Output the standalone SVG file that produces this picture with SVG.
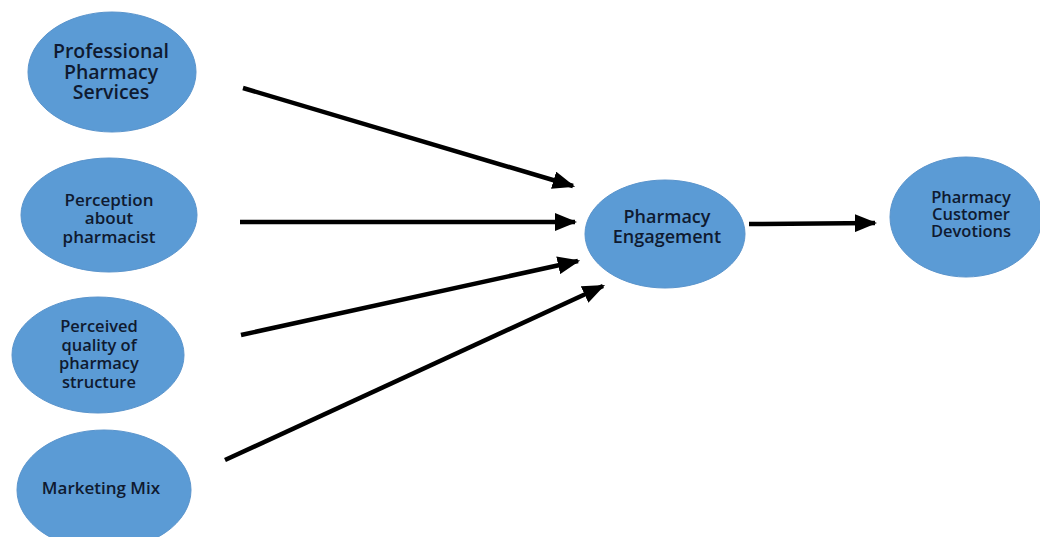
<svg xmlns="http://www.w3.org/2000/svg" width="1040" height="537" viewBox="0 0 1040 537">
  <style>
    .node ellipse { fill: #5b9bd5; stroke: #5a94cc; stroke-width: 1; }
    .node text { font-family: "Open Sans", Lato, "Liberation Sans", sans-serif; font-weight: 600; fill: #0f1a30; text-anchor: middle; dominant-baseline: central; }
    .edges line { stroke: #000; stroke-width: 4.5; marker-end: url(#arrow); }
  </style>
  <defs>
    <marker id="arrow" viewBox="0 0 10 10" refX="9" refY="5" markerWidth="5" markerHeight="4" markerUnits="strokeWidth" orient="auto" preserveAspectRatio="none">
      <path d="M0,0 L10,5 L0,10 Z" fill="#000"/>
    </marker>
  </defs>
  <rect width="1040" height="537" fill="#fff"/>

  <g class="edges">
    <line x1="243" y1="88" x2="573" y2="186"/>
    <line x1="240" y1="222" x2="575" y2="222"/>
    <line x1="241" y1="335" x2="578" y2="261"/>
    <line x1="225" y1="460" x2="603" y2="286"/>
    <line x1="749" y1="224" x2="875" y2="223"/>
  </g>

  <g id="professional-services" class="node">
    <ellipse cx="112" cy="72" rx="84" ry="60"/>
    <text font-size="19.5"><tspan x="111" y="50">Professional</tspan><tspan x="111" y="70.5">Pharmacy</tspan><tspan x="111" y="91">Services</tspan></text>
  </g>

  <g id="perception-pharmacist" class="node">
    <ellipse cx="109" cy="215" rx="88" ry="57"/>
    <text font-size="17"><tspan x="109" y="198.5">Perception</tspan><tspan x="109" y="217">about</tspan><tspan x="109" y="235.5">pharmacist</tspan></text>
  </g>

  <g id="perceived-quality" class="node">
    <ellipse cx="98" cy="355" rx="86" ry="58"/>
    <text font-size="16.5"><tspan x="99" y="325">Perceived</tspan><tspan x="99" y="343.5">quality of</tspan><tspan x="99" y="362">pharmacy</tspan><tspan x="99" y="380.5">structure</tspan></text>
  </g>

  <g id="marketing-mix" class="node">
    <ellipse cx="104" cy="490" rx="87" ry="60"/>
    <text font-size="17" x="101" y="487">Marketing Mix</text>
  </g>

  <g id="pharmacy-engagement" class="node">
    <ellipse cx="665" cy="234" rx="80" ry="54"/>
    <text font-size="18"><tspan x="667" y="216">Pharmacy</tspan><tspan x="667" y="236">Engagement</tspan></text>
  </g>

  <g id="customer-devotions" class="node">
    <ellipse cx="966" cy="217" rx="76" ry="60"/>
    <text font-size="16.5"><tspan x="971" y="196">Pharmacy</tspan><tspan x="971" y="213">Customer</tspan><tspan x="971" y="230">Devotions</tspan></text>
  </g>
</svg>
